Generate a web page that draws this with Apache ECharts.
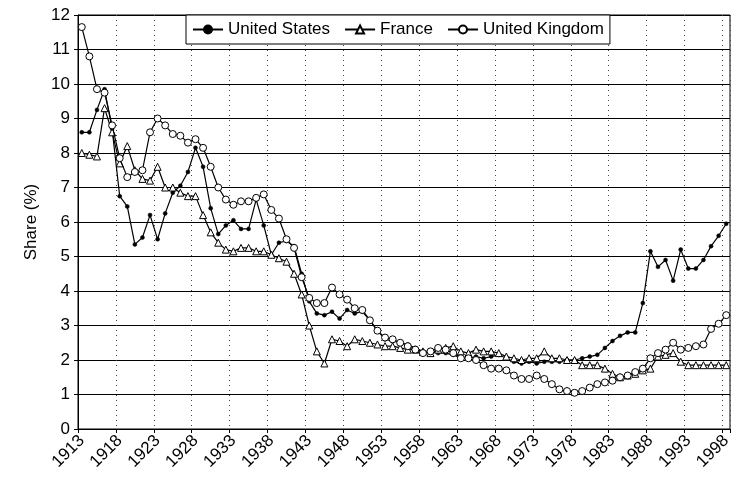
<!DOCTYPE html>
<html>
<head>
<meta charset="utf-8">
<script src="https://cdn.jsdelivr.net/npm/echarts@6/dist/echarts.min.js"></script>
<style>
html,body{margin:0;padding:0;background:#fff;}
#chart{width:739px;height:487px;}
</style>
</head>
<body>
<div id="chart"></div>
<script>
// Years 1913..1998
var years = [];
for (var y = 1913; y <= 1998; y++) years.push(String(y));

var unitedStates = [
  8.6, 8.6, 9.25, 9.85, 8.7, 6.75, 6.45, 5.35, 5.55, 6.2,
  5.5, 6.25, 6.85, 7.05, 7.45, 8.15, 7.6, 6.4, 5.65, 5.9,
  6.05, 5.8, 5.8, 6.65, 5.9, 5.05, 5.4, 5.45, 5.3, 4.5,
  3.7, 3.35, 3.3, 3.4, 3.2, 3.45, 3.35, 3.4, 3.15, 2.85,
  2.6, 2.55, 2.5, 2.45, 2.35, 2.25, 2.25, 2.2, 2.2, 2.15,
  2.05, 2.05, 2.1, 2.05, 2.1, 2.15, 2.05, 1.95, 1.9, 1.95,
  1.9, 1.95, 1.95, 1.95, 2.0, 2.0, 2.05, 2.1, 2.15, 2.35,
  2.55, 2.7, 2.8, 2.8, 3.65, 5.15, 4.7, 4.9, 4.3, 5.2,
  4.65, 4.65, 4.9, 5.3, 5.6, 5.95
];

var france = [
  8.0, 7.95, 7.9, 9.3, 8.6, 7.7, 8.2, 7.5, 7.25, 7.2,
  7.6, 7.0, 7.0, 6.85, 6.75, 6.75, 6.2, 5.7, 5.4, 5.2,
  5.15, 5.25, 5.25, 5.15, 5.15, 5.05, 4.95, 4.85, 4.5, 3.9,
  3.0, 2.25, 1.9, 2.6, 2.55, 2.4, 2.6, 2.55, 2.5, 2.45,
  2.4, 2.4, 2.35, 2.3, 2.3, 2.25, 2.2, 2.3, 2.35, 2.4,
  2.25, 2.2, 2.3, 2.25, 2.25, 2.2, 2.1, 2.05, 2.0, 2.05,
  2.05, 2.25, 2.05, 2.05, 2.0, 2.0, 1.85, 1.85, 1.85, 1.75,
  1.6, 1.5, 1.55, 1.6, 1.7, 1.75, 2.1, 2.15, 2.2, 1.95,
  1.85, 1.85, 1.85, 1.85, 1.85, 1.85
];

var unitedKingdom = [
  11.65, 10.8, 9.85, 9.75, 8.8, 7.85, 7.3, 7.45, 7.5, 8.6,
  9.0, 8.8, 8.55, 8.5, 8.3, 8.4, 8.15, 7.6, 7.0, 6.65,
  6.5, 6.6, 6.6, 6.7, 6.8, 6.35, 6.1, 5.5, 5.25, 4.4,
  3.8, 3.65, 3.65, 4.1, 3.9, 3.75, 3.5, 3.45, 3.15, 2.85,
  2.65, 2.6, 2.5, 2.4, 2.3, 2.2, 2.25, 2.35, 2.3, 2.2,
  2.05, 2.05, 2.0, 1.85, 1.75, 1.75, 1.7, 1.55, 1.45, 1.45,
  1.55, 1.45, 1.3, 1.15, 1.1, 1.05, 1.1, 1.2, 1.3, 1.35,
  1.4, 1.5, 1.55, 1.65, 1.75, 2.05, 2.2, 2.3, 2.5, 2.3,
  2.35, 2.4, 2.45, 2.9, 3.05, 3.3
];

var seriesNames = ['United States', 'France', 'United Kingdom'];
var yTicks = { min: 0, max: 12, step: 1 };

var FONT = '"Liberation Sans", Arial, sans-serif';
var chart = echarts.init(document.getElementById('chart'), null, { renderer: 'canvas' });

chart.setOption({
  animation: false,
  backgroundColor: '#fff',
  textStyle: { fontFamily: FONT, color: '#000' },
  grid: {
    left: 78, right: 9, top: 15, bottom: 58,
    show: true, borderColor: '#000', borderWidth: 1, backgroundColor: 'transparent'
  },
  legend: {
    data: seriesNames,
    left: 186, top: 15,
    padding: [6, 6, 6, 6],
    itemGap: 14,
    itemWidth: 30, itemHeight: 10,
    backgroundColor: '#fff',
    borderColor: '#000', borderWidth: 1,
    textStyle: { fontFamily: FONT, fontSize: 17, color: '#000', lineHeight: 17 }
  },
  xAxis: {
    type: 'category',
    data: years,
    boundaryGap: true,
    axisLine: { lineStyle: { color: '#000', width: 1 } },
    axisTick: { show: true, interval: 4, length: 4, lineStyle: { color: '#000' } },
    axisLabel: {
      interval: 4, rotate: 45, fontSize: 17, color: '#000', fontFamily: FONT, margin: 9
    },
    splitLine: {
      show: true, interval: 4,
      lineStyle: { color: '#444', type: [1, 4], width: 1 }
    }
  },
  yAxis: {
    type: 'value',
    min: yTicks.min, max: yTicks.max, interval: yTicks.step,
    name: 'Share (%)',
    nameLocation: 'middle',
    nameGap: 38,
    nameTextStyle: { fontSize: 17, color: '#000', fontFamily: FONT },
    axisLine: { show: true, lineStyle: { color: '#000', width: 1 } },
    axisTick: { show: true, length: 4, lineStyle: { color: '#000' } },
    axisLabel: { fontSize: 17, color: '#000', fontFamily: FONT, margin: 8 },
    splitLine: { show: true, lineStyle: { color: '#000', width: 1 } }
  },
  series: [
    {
      name: seriesNames[0], type: 'line', data: unitedStates,
      symbol: 'circle', symbolSize: 4, showAllSymbol: true,
      lineStyle: { color: '#000', width: 1.2 },
      itemStyle: { color: '#000', borderColor: '#000', borderWidth: 0.5 },
      z: 3
    },
    {
      name: seriesNames[1], type: 'line', data: france,
      symbol: 'triangle', symbolSize: 7, showAllSymbol: true,
      lineStyle: { color: '#000', width: 1.2 },
      itemStyle: { color: '#fff', borderColor: '#000', borderWidth: 1 },
      z: 4
    },
    {
      name: seriesNames[2], type: 'line', data: unitedKingdom,
      symbol: 'circle', symbolSize: 7, showAllSymbol: true,
      lineStyle: { color: '#000', width: 1.2 },
      itemStyle: { color: '#fff', borderColor: '#000', borderWidth: 1 },
      z: 5
    }
  ]
});
</script>
</body>
</html>
